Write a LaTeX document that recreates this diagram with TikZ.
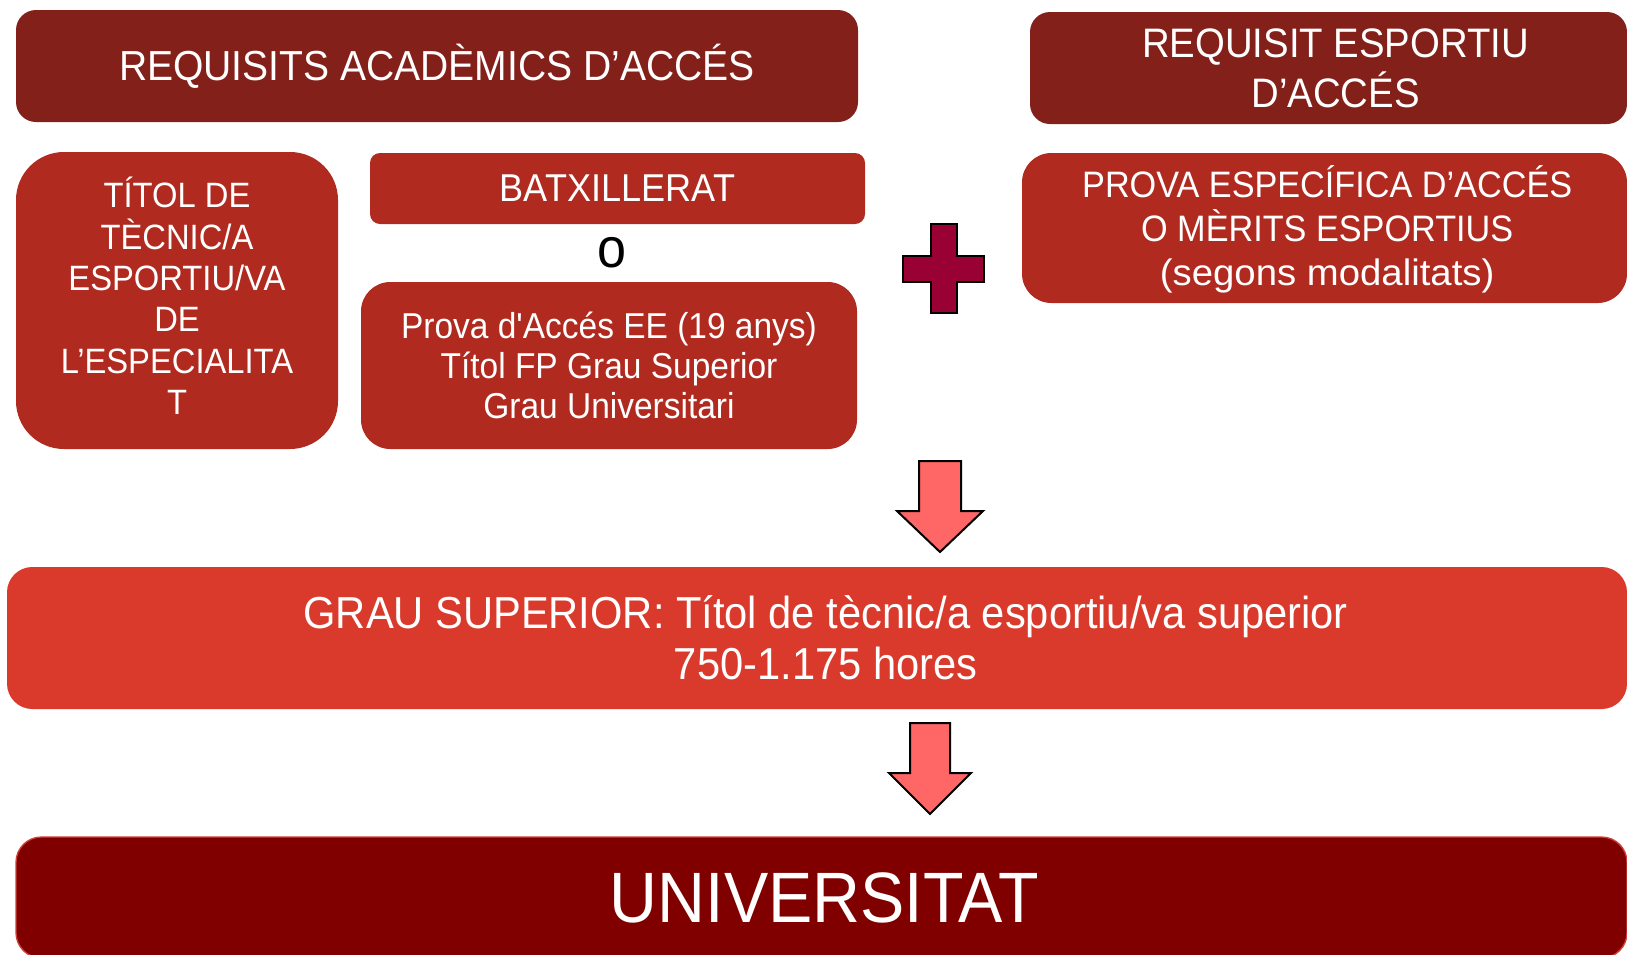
\documentclass[tikz,border=0pt]{standalone}
\usepackage{graphicx}
\usepackage{fontspec}
\setmainfont{Liberation Sans}[FakeStretch=0.93, Ligatures=TeXOff]
\definecolor{hdr}{HTML}{832019}
\definecolor{mid}{HTML}{B02A20}
\definecolor{grauc}{HTML}{D93A2B}
\definecolor{univc}{HTML}{800000}
\definecolor{univedge}{HTML}{D0403A}
\definecolor{plusc}{HTML}{990033}
\definecolor{arrowc}{HTML}{FF6666}
\newcommand{\fs}[2]{\fontsize{#1}{#2}\selectfont}
\tikzset{
  box/.style={inner sep=0pt, outer sep=0pt, text=white, align=center},
  blockshape/.style={draw=black, line width=1.5pt, line join=miter},
}
\begin{document}
\begin{tikzpicture}[x=0.75pt, y=-0.75pt]
\useasboundingbox (0,0) rectangle (1627,954);
% header boxes
\node[box, fill=hdr, rounded corners=15pt, minimum width=0.75pt*842, minimum height=0.75pt*112,
      font=\fs{31.5pt}{37.5pt}] (reqA) at (437,66) {REQUISITS ACADÈMICS D’ACCÉS};
\node[box, fill=hdr, rounded corners=15pt, minimum width=0.75pt*597, minimum height=0.75pt*112,
      font=\fs{30.9pt}{37.5pt}] (reqE) at (1328.5,68) {\hspace*{10.5pt}REQUISIT ESPORTIU\\\hspace*{10.5pt}D’ACCÉS};
% second row
\node[box, fill=mid, rounded corners=36pt, minimum width=0.75pt*322, minimum height=0.75pt*297] (titol) at (177,300.5) {};
\node[box, font=\fs{26.4pt}{31pt}] (titolText) at ([yshift=3.5pt]titol.center) {TÍTOL DE\\TÈCNIC/A\\ESPORTIU/VA\\DE\\L’ESPECIALITA\\T};
\node[box, fill=mid, rounded corners=7.5pt, minimum width=0.75pt*495, minimum height=0.75pt*71,
      font=\fs{29.1pt}{34pt}] (batx) at (617.5,188.5) {BATXILLERAT};
\node[inner sep=0pt, text=black, font=\fs{42pt}{48pt}] (or) at (612,253) {o};
\node[box, fill=mid, rounded corners=22pt, minimum width=0.75pt*496, minimum height=0.75pt*167,
      font=\fs{27pt}{30pt}] (provaA) at (609,365.5) {Prova d'Accés EE (19 anys)\\Títol FP Grau Superior\\Grau Universitari};
\node[box, fill=mid, rounded corners=22pt, minimum width=0.75pt*605, minimum height=0.75pt*150] (provaE) at (1324.5,228) {};
\node[box, font=\fs{27.6pt}{33pt}] (provaEText) at ([yshift=-1pt, xshift=2pt]provaE.center)
  {PROVA ESPECÍFICA D’ACCÉS\\O MÈRITS ESPORTIUS\\\scalebox{1.12}[1]{(segons modalitats)}};
% plus sign
\draw[blockshape, fill=plusc] (931,224) -- (957,224) -- (957,256) -- (984,256) -- (984,282) -- (957,282)
  -- (957,313) -- (931,313) -- (931,282) -- (903,282) -- (903,256) -- (931,256) -- cycle;
% arrow 1
\draw[blockshape, fill=arrowc] (919,461) -- (961,461) -- (961,511) -- (983,511) -- (940,552)
  -- (897,511) -- (919,511) -- cycle;
% grau superior
\node[box, fill=grauc, rounded corners=19pt, minimum width=0.75pt*1620, minimum height=0.75pt*142,
      font=\fs{33.6pt}{38pt}] (grau) at (817,638) {\hspace*{13pt}GRAU SUPERIOR: Títol de tècnic/a esportiu/va superior\\\hspace*{13pt}750-1.175 hores};
% arrow 2
\draw[blockshape, fill=arrowc] (910,723) -- (950,723) -- (950,773) -- (971,773) -- (930,814)
  -- (889,773) -- (910,773) -- cycle;
% universitat
\node[box, fill=univc, draw=univedge, line width=1pt, rounded corners=19pt, minimum width=0.75pt*1611,
      minimum height=0.75pt*121, font=\fs{53.5pt}{60pt}] (univ) at (821.5,897.5) {\hspace*{4pt}UNIVERSITAT};
\end{tikzpicture}
\end{document}
